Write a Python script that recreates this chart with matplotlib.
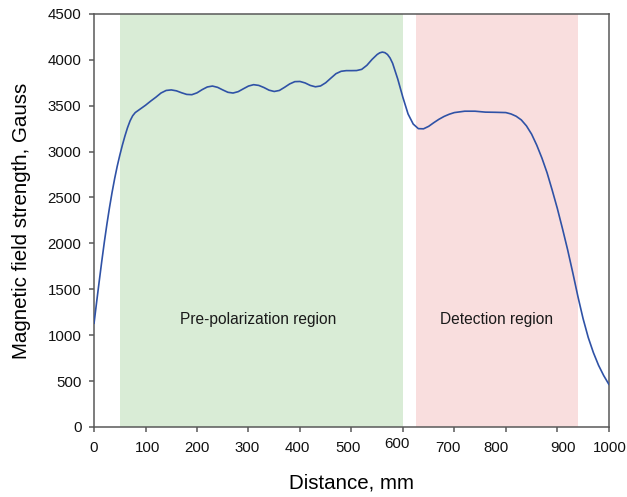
import matplotlib
matplotlib.use("Agg")
import matplotlib.pyplot as plt
import matplotlib.transforms as mtransforms

plt.rcParams['font.family'] = ['Liberation Sans', 'DejaVu Sans']

# Data
distance = [0, 5, 10, 15, 20, 25, 30, 35, 40, 45, 50, 55, 60, 65, 70, 75, 80, 90,
            100, 110, 120, 130, 140, 150, 160, 170, 180, 190, 200, 210, 220, 230,
            240, 250, 260, 270, 280, 290, 300, 310, 320, 330, 340, 350, 360, 370,
            380, 390, 400, 410, 420, 430, 440, 450, 460, 470, 480, 490, 500, 510,
            520, 530, 540, 550, 555, 560, 565, 570, 575, 580, 590, 600, 610, 620,
            630, 640, 650, 660, 670, 680, 690, 700, 720, 740, 760, 780, 800, 810,
            820, 830, 840, 850, 860, 870, 880, 890, 900, 910, 920, 930, 940, 950,
            960, 970, 980, 990, 1000]
field = [1130, 1360, 1585, 1805, 2015, 2210, 2390, 2555, 2705, 2840, 2960, 3070,
         3170, 3260, 3335, 3390, 3425, 3465, 3505, 3550, 3592, 3638, 3666, 3672,
         3662, 3641, 3623, 3620, 3640, 3675, 3704, 3714, 3700, 3672, 3646, 3638,
         3653, 3684, 3714, 3729, 3721, 3698, 3669, 3655, 3666, 3700, 3737, 3762,
         3764, 3748, 3721, 3706, 3715, 3750, 3800, 3849, 3875, 3882, 3882, 3883,
         3896, 3940, 4004, 4058, 4076, 4084, 4078, 4058, 4020, 3962, 3790, 3590,
         3410, 3300, 3250, 3248, 3275, 3315, 3352, 3383, 3407, 3425, 3440, 3440,
         3430, 3428, 3425, 3410, 3385, 3345, 3280, 3190, 3070, 2930, 2770, 2580,
         2380, 2160, 1930, 1680, 1420, 1180, 975, 810, 672, 560, 465]

regions = ["Pre-polarization region", "Detection region"]
region_start = [50, 625]
region_end = [600, 940]
region_colors = ['#d9ecd6', '#f9dede']
label_x = [318, 782]
label_y = [1170, 1170]

xticks = [0, 100, 200, 300, 400, 500, 600, 700, 800, 900, 1000]
yticks = [0, 500, 1000, 1500, 2000, 2500, 3000, 3500, 4000, 4500]
# small offsets (pixels) of x tick labels in the reference
xlabel_dx = [0, 2, 0, -1, -3, -3, -6, -6, -10, 6, 1]
xlabel_dy = [0, 0, 0, 0, 0, 0, 4, 0, 0, 0, 0]

fig = plt.figure(figsize=(6.27, 4.97), dpi=100)
ax = fig.add_axes([0.150, 0.141, 0.821, 0.831])

for s, e, c in zip(region_start, region_end, region_colors):
    ax.axvspan(s, e, color=c, lw=0, zorder=0)
for t, x, y in zip(regions, label_x, label_y):
    ax.text(x, y, t, ha='center', va='center', fontsize=11.2, color='#1a1a1a')

ax.plot(distance, field, color='#2f52a6', lw=1.2, zorder=3)

ax.set_xlim(0, 1000)
ax.set_ylim(0, 4500)
ax.set_xticks(xticks)
ax.set_yticks(yticks)
ax.tick_params(axis='both', direction='out', length=3.6, width=1.1,
               color='#595959', labelsize=10.8, labelcolor='#111111')
ax.tick_params(axis='x', pad=6.5)
ax.tick_params(axis='y', pad=5.5)
for sp in ax.spines.values():
    sp.set_color('#595959')
    sp.set_linewidth(1.1)

for lab, dx, dy in zip(ax.get_xticklabels(), xlabel_dx, xlabel_dy):
    off = mtransforms.ScaledTranslation(dx / 100.0, dy / 100.0, fig.dpi_scale_trans)
    lab.set_transform(lab.get_transform() + off)

ax.set_xlabel('Distance, mm', fontsize=14.8, labelpad=13)
ax.set_ylabel('Magnetic field strength, Gauss', fontsize=14.8, labelpad=12)

fig.savefig('out.png', dpi=100)
